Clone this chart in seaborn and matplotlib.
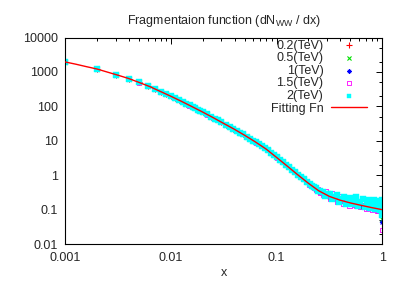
import matplotlib
matplotlib.use("Agg")
import matplotlib.pyplot as plt
from matplotlib.ticker import LogLocator, FuncFormatter, NullFormatter
import seaborn as sns

# ---------------------------------------------------------------
# data
# ---------------------------------------------------------------
energies = ["0.2", "0.5", "1", "1.5", "2"]
colors = ["#ff0000", "#00e000", "#0000ff", "#ff00ff", "#00ffff"]

# x < 0.2 : the five energies lie on top of each other -> one shared reading
x_low = [0.001, 0.002, 0.003, 0.004, 0.005, 0.006, 0.007, 0.008, 0.009, 0.010,
         0.011, 0.012, 0.013, 0.014, 0.015, 0.016, 0.017, 0.018, 0.019, 0.020,
         0.022, 0.024, 0.026, 0.028, 0.030,
         0.033, 0.036, 0.039, 0.042, 0.045, 0.048,
         0.052, 0.056, 0.060, 0.064, 0.068, 0.072, 0.077, 0.082, 0.088, 0.094, 0.100,
         0.107, 0.114, 0.122, 0.130, 0.139, 0.148, 0.158, 0.169, 0.180, 0.192]
y_low = [1950, 1215, 843, 643, 497, 399, 325, 270, 229, 197,
         171, 150, 133, 119, 107, 97.5, 88.5, 80.7, 74.0, 68.1,
         58.6, 50.9, 44.6, 39.4, 35.0,
         29.7, 25.8, 22.5, 19.8, 17.5, 15.6,
         13.4, 11.7, 10.2, 9.03, 7.96, 7.11, 6.21, 5.38, 4.54, 3.85, 3.31,
         2.80, 2.39, 2.02, 1.72, 1.45, 1.245, 1.053, 0.891, 0.763, 0.649]

# 0.2 < x < 1 : the series spread out
x_tail = [0.205, 0.215, 0.225, 0.235, 0.245, 0.26, 0.275, 0.29, 0.305, 0.32,
          0.335, 0.35, 0.37, 0.39, 0.41, 0.43, 0.45, 0.47, 0.49, 0.515,
          0.54, 0.565, 0.59, 0.62, 0.65, 0.68, 0.71, 0.74, 0.77, 0.80,
          0.83, 0.86, 0.89, 0.92, 0.95, 0.97, 0.985, 0.995]
# 0.2, 0.5 and 1 TeV sit inside the band
y_tail_mid = [0.554, 0.501, 0.453, 0.411, 0.375, 0.336, 0.308, 0.282, 0.261, 0.242,
              0.230, 0.220, 0.207, 0.195, 0.186, 0.180, 0.173, 0.167, 0.161, 0.155,
              0.151, 0.146, 0.141, 0.136, 0.132, 0.128, 0.125, 0.122, 0.119, 0.116,
              0.113, 0.111, 0.109, 0.106, 0.104, 0.103, 0.102, 0.101]
y_tail_15 = [0.53, 0.54, 0.44, 0.38, 0.41, 0.32, 0.27, 0.34, 0.248, 0.205,
             0.30, 0.209, 0.170, 0.245, 0.177, 0.148, 0.210, 0.159, 0.134, 0.183,
             0.138, 0.126, 0.152, 0.118, 0.120, 0.139, 0.108, 0.111, 0.130, 0.101,
             0.103, 0.126, 0.091, 0.096, 0.123, 0.089, 0.15, 0.085]
y_tail_2 = [0.58, 0.48, 0.47, 0.44, 0.35, 0.35, 0.34, 0.26, 0.28, 0.29,
            0.205, 0.24, 0.265, 0.17, 0.205, 0.235, 0.150, 0.184, 0.22, 0.145,
            0.189, 0.228, 0.132, 0.170, 0.207, 0.120, 0.156, 0.198, 0.112, 0.145,
            0.19, 0.104, 0.142, 0.185, 0.096, 0.134, 0.19, 0.072]

# last point (x = 1) of every energy
y_at_one = [0.09, 0.054, 0.045, 0.026, 0.12]

# fitting function
fit_x = [0.001, 0.00126, 0.00158, 0.002, 0.00251, 0.00316, 0.00398, 0.00501,
         0.00631, 0.00794, 0.01, 0.0126, 0.0158, 0.02, 0.0251, 0.0316, 0.0398,
         0.0501, 0.0631, 0.0794, 0.1, 0.126, 0.158, 0.2, 0.251, 0.316, 0.398,
         0.501, 0.631, 0.794, 1.0]
fit_y = [1950, 1679, 1429, 1216, 989, 804, 646, 495, 376, 272, 197, 140, 98.9,
         68.4, 47.3, 32.0, 21.8, 14.4, 9.29, 5.82, 3.31, 1.86, 1.047, 0.589,
         0.355, 0.245, 0.191, 0.158, 0.135, 0.116, 0.101]

tails = [y_tail_mid, y_tail_mid, y_tail_mid, y_tail_15, y_tail_2]

# ---------------------------------------------------------------
# style
# ---------------------------------------------------------------
sns.set_style("white")
plt.rcParams["font.family"] = ["Liberation Sans", "DejaVu Sans"]
plt.rcParams["mathtext.default"] = "regular"
plt.rcParams["font.size"] = 9

fig = plt.figure(figsize=(4.03, 2.82), dpi=100)
ax = fig.add_axes([0.162, 0.1337, 0.7866, 0.7333])

marker_kw = [
    dict(marker="+", s=18, linewidths=0.8),
    dict(marker="x", s=12, linewidths=0.8),
    dict(marker=(8, 2, 0), s=10, linewidths=0.7),
    dict(marker="s", s=9, facecolor="none", linewidths=0.6),
    dict(marker="s", s=15, linewidths=0.3),
]

for e, c, tail, y1, kw in zip(energies, colors, tails, y_at_one, marker_kw):
    xs = x_low + x_tail + [1.0]
    ys = y_low + tail + [y1]
    sns.scatterplot(x=xs, y=ys, ax=ax, color=c, edgecolor=c,
                    label=f"{e}(TeV)", zorder=2, **kw)

sns.lineplot(x=fit_x, y=fit_y, ax=ax, color="#ff0000", lw=1.0,
             label="Fitting Fn", zorder=3, sort=False, estimator=None)

ax.set_xscale("log")
ax.set_yscale("log")
ax.set_xlim(0.001, 1)
ax.set_ylim(0.01, 10000)

fmt = FuncFormatter(lambda v, _: f"{v:g}")
ax.xaxis.set_major_locator(LogLocator(base=10, numticks=10))
ax.xaxis.set_minor_locator(LogLocator(base=10, subs=range(2, 10), numticks=20))
ax.yaxis.set_major_locator(LogLocator(base=10, numticks=10))
ax.yaxis.set_minor_locator(LogLocator(base=10, subs=(2, 5), numticks=20))
ax.xaxis.set_major_formatter(fmt)
ax.yaxis.set_major_formatter(fmt)
ax.xaxis.set_minor_formatter(NullFormatter())
ax.yaxis.set_minor_formatter(NullFormatter())

ax.tick_params(which="both", direction="in", top=True, right=True,
               color="black", width=0.7, labelsize=9, pad=5.5)
ax.tick_params(which="major", length=4.5)
ax.tick_params(which="minor", length=2.5)
for sp in ax.spines.values():
    sp.set_color("black")
    sp.set_linewidth(0.8)

ax.set_xlabel("x", fontsize=9, labelpad=2)
ax.set_ylabel(None)
ax.set_title(r"Fragmentaion function (dN$_{WW}$ / dx)", fontsize=9, pad=10)

ax.legend(loc="upper right", bbox_to_anchor=(0.952, 0.99), frameon=False,
          markerfirst=False, handlelength=2.9, handletextpad=0.6,
          labelspacing=0.05, borderpad=0, borderaxespad=0, fontsize=9,
          scatterpoints=1, markerscale=0.85)

fig.savefig("out.png", dpi=100)
